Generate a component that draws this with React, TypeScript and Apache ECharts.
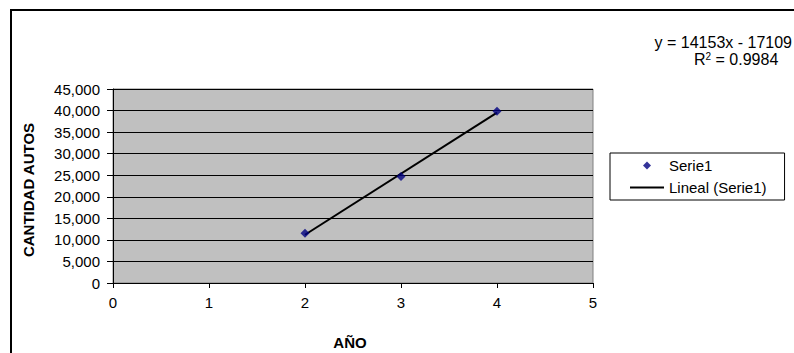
import React, { useEffect, useRef } from "react";
import * as echarts from "echarts";

const years = [2, 3, 4];
const autos = [11524, 24696, 39830];
const trendYears = [2, 4];
const trendValues = [11197, 39503];
const xTicks = [0, 1, 2, 3, 4, 5];
const equationText = "y = 14153x - 17109";
const r2Value = " = 0.9984";
const seriesName = "Serie1";
const trendName = "Lineal (Serie1)";

const FONT = "'Liberation Sans', Arial, sans-serif";

export default function App() {
  const ref = useRef<HTMLDivElement>(null);
  useEffect(() => {
    if (!ref.current) return;
    const chart = echarts.init(ref.current, undefined, { renderer: "svg" });
    chart.setOption({
      animation: false,
      textStyle: { fontFamily: FONT },
      grid: {
        left: 113,
        right: 201,
        top: 89,
        bottom: 70,
        show: true,
        backgroundColor: "#c0c0c0",
        borderColor: "#808080",
        borderWidth: 1,
      },
      xAxis: {
        type: "value",
        min: xTicks[0],
        max: xTicks[xTicks.length - 1],
        interval: 1,
        axisLine: { show: true, onZero: false, lineStyle: { color: "#000", width: 1 } },
        axisTick: { show: true, length: 5, lineStyle: { color: "#000" } },
        axisLabel: { color: "#000", fontSize: 15, margin: 12, fontFamily: FONT },
        splitLine: { show: false },
      },
      yAxis: {
        type: "value",
        min: 0,
        max: 45000,
        interval: 5000,
        axisLine: { show: true, lineStyle: { color: "#000", width: 1 } },
        axisTick: { show: true, length: 6, lineStyle: { color: "#000" } },
        axisLabel: {
          color: "#000",
          fontSize: 15,
          margin: 13,
          fontFamily: FONT,
          formatter: (v: number) => v.toLocaleString("en-US"),
        },
        splitLine: { show: true, lineStyle: { color: "#000", width: 1 } },
      },
      legend: {
        orient: "vertical",
        left: 610,
        top: 153,
        padding: [5, 18, 5, 20],
        borderColor: "#000",
        borderWidth: 1,
        backgroundColor: "#fff",
        itemWidth: 34,
        itemHeight: 8,
        itemGap: 7,
        symbolKeepAspect: true,
        textStyle: { fontSize: 15, color: "#000", fontFamily: FONT },
        data: [
          {
            name: seriesName,
            icon: "path://M0,4M34,4M17,0L21,4L17,8L13,4Z",
            itemStyle: { color: "#000080" },
          },
          {
            name: trendName,
            icon: "path://M0,0M0,8M0,3L34,3L34,5L0,5Z",
            itemStyle: { color: "#000", borderWidth: 0 },
          },
        ],
      },
      series: [
        {
          name: trendName,
          type: "line",
          data: trendYears.map((x, i) => [x, trendValues[i]]),
          symbol: "none",
          lineStyle: { color: "#000", width: 2 },
          itemStyle: { color: "#000" },
          z: 3,
        },
        {
          name: seriesName,
          type: "scatter",
          data: years.map((x, i) => [x, autos[i]]),
          symbol: "diamond",
          symbolSize: 9,
          itemStyle: { color: "#000080" },
          z: 4,
        },
      ],
      graphic: [
        {
          type: "rect",
          shape: { x: 11, y: 10, width: 820, height: 400 },
          style: { fill: "none", stroke: "#000", lineWidth: 2 },
          silent: true,
        },
        {
          type: "text",
          x: 792,
          y: 42,
          style: {
            text: equationText,
            fontSize: 16,
            lineHeight: 16,
            fontFamily: FONT,
            fill: "#000",
            align: "right",
            verticalAlign: "middle",
          },
        },
        {
          type: "text",
          x: 694,
          y: 59,
          style: {
            text: "{r|R}{s|2}{r|" + r2Value + "}",
            fontFamily: FONT,
            fill: "#000",
            align: "left",
            verticalAlign: "middle",
            rich: {
              r: { fontSize: 16, lineHeight: 16, fontFamily: FONT, fill: "#000", verticalAlign: "bottom" },
              s: { fontSize: 10, lineHeight: 10, fontFamily: FONT, fill: "#000", verticalAlign: "top" },
            },
          },
        },
        {
          type: "text",
          x: 350,
          y: 342,
          style: {
            text: "AÑO",
            fontSize: 15,
            fontWeight: "bold",
            fontFamily: FONT,
            fill: "#000",
            align: "center",
            verticalAlign: "middle",
          },
        },
        {
          type: "text",
          x: 28,
          y: 190,
          rotation: Math.PI / 2,
          style: {
            text: "CANTIDAD AUTOS",
            fontSize: 15,
            fontWeight: "bold",
            fontFamily: FONT,
            fill: "#000",
            align: "center",
            verticalAlign: "middle",
          },
        },
      ],
    });
    return () => chart.dispose();
  }, []);
  return (
    <div
      ref={ref}
      style={{ position: "fixed", left: 0, top: 0, width: 794, height: 353, background: "#fff" }}
    />
  );
}
